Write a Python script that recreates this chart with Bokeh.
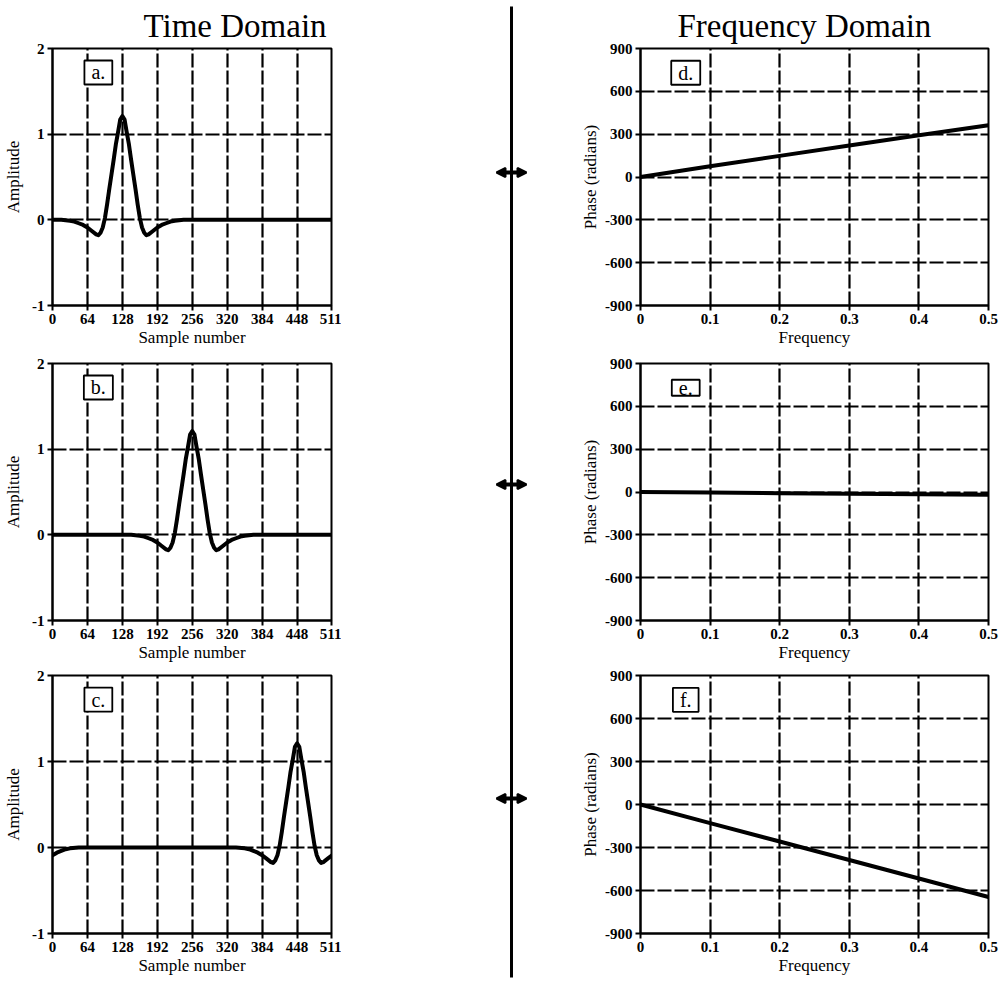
from bokeh.plotting import figure
from bokeh.layouts import row, column
from bokeh.models import Range1d, FixedTicker, Label, Arrow, NormalHead
from bokeh.embed import file_html
from bokeh.resources import INLINE

# ---------------- data ----------------
# pulse shape, amplitude vs offset (samples) from the peak
pulse_offsets = [-128, -112, -96, -88, -80, -72, -64, -56, -48, -44, -40, -36, -32,
                 -28, -24, -20, -16, -12, -8, -4, 0, 4, 8, 12, 16, 20, 24, 28,
                 32, 36, 40, 44, 48, 56, 64, 72, 80, 88, 96, 112, 128]
pulse_values = [0.0, 0.0, -0.01, -0.02, -0.04, -0.06, -0.09, -0.13, -0.17, -0.18, -0.15, -0.09, 0.02,
                0.18, 0.36, 0.53, 0.70, 0.88, 1.02, 1.17, 1.21, 1.17, 1.02, 0.88, 0.70, 0.53, 0.36, 0.18,
                0.02, -0.09, -0.15, -0.18, -0.17, -0.13, -0.09, -0.06, -0.04, -0.02, -0.01, 0.0, 0.0]
peak_positions = [128, 256, 448]          # panels a, b, c
n_samples = 512

time_ticks = [0, 64, 128, 192, 256, 320, 384, 448, 511]
time_grid = [64, 128, 192, 256, 320, 384, 448]
amp_ticks = [-1, 0, 1, 2]
amp_labels = {-1: "-1", 0: "0", 1: "1", 2: "2"}
amp_grid = [0, 1]

freq = [0.0, 0.1, 0.2, 0.3, 0.4, 0.5]
phase_d = [0, 75, 148, 220, 292, 362]
phase_e = [0, -4, -8, -12, -16, -20]
phase_f = [0, -130, -258, -387, -516, -645]
freq_ticks = [0, 0.1, 0.2, 0.3, 0.4, 0.5]
freq_labels = {0: "0"}
freq_grid = [0.1, 0.2, 0.3, 0.4]
phase_ticks = [-900, -600, -300, 0, 300, 600, 900]
phase_labels = {-900: "-900", -600: "-600", -300: "-300", 0: "0", 300: "300", 600: "600", 900: "900"}
phase_grid = [-600, -300, 0, 300, 600]

time_tags = ["a.", "b.", "c."]
freq_tags = ["d.", "e.", "f."]

SERIF = "Liberation Serif"

# vertical layout (top border, frame height, bottom border) per row
rows_geom = [(48, 257, 50), (8, 257, 47), (8, 258, 49)]


def style(p, xlabel, ylabel, xticks, yticks, xgrid, ygrid, xlabels=None, ylabels=None):
    p.outline_line_color = "black"
    p.outline_line_width = 2
    p.background_fill_color = "white"
    p.border_fill_color = "white"
    for ax in (p.xaxis[0], p.yaxis[0]):
        ax.axis_line_color = "black"
        ax.axis_line_width = 2
        ax.major_tick_line_color = "black"
        ax.major_tick_line_width = 2
        ax.major_tick_in = 0
        ax.major_tick_out = 5
        ax.minor_tick_line_color = None
        ax.major_label_text_font = SERIF
        ax.major_label_text_font_style = "bold"
        ax.major_label_text_font_size = "15px"
        ax.major_label_text_color = "black"
        ax.axis_label_text_font = SERIF
        ax.axis_label_text_font_style = "normal"
        ax.axis_label_text_font_size = "17px"
        ax.axis_label_text_color = "black"
    p.xaxis[0].axis_label = xlabel
    p.yaxis[0].axis_label = ylabel
    p.xaxis[0].major_label_standoff = 3
    p.xaxis[0].axis_label_standoff = 1
    p.yaxis[0].major_label_standoff = 3
    p.xaxis[0].ticker = FixedTicker(ticks=xticks)
    p.yaxis[0].ticker = FixedTicker(ticks=yticks)
    if xlabels:
        p.xaxis[0].major_label_overrides = xlabels
    if ylabels:
        p.yaxis[0].major_label_overrides = ylabels
    p.xgrid[0].ticker = FixedTicker(ticks=xgrid)
    p.ygrid[0].ticker = FixedTicker(ticks=ygrid)
    for g in (p.xgrid[0], p.ygrid[0]):
        g.grid_line_color = "black"
        g.grid_line_width = 2.2
        g.grid_line_dash = "14 3"


def tag(p, x, y, text):
    p.add_layout(Label(x=x, y=y, text=text, text_font=SERIF, text_font_size="20px",
                       text_align="center", text_baseline="middle", text_color="black",
                       border_line_color="black", border_line_width=1.8,
                       background_fill_color="white", padding=dict(left=7, right=7, top=1, bottom=1)))


def set_title(p, text, offset):
    p.title.text = text
    p.title.align = "left"
    p.title.offset = offset
    p.title.standoff = 9
    p.title.text_font = SERIF
    p.title.text_font_size = "33px"
    p.title.text_font_style = "normal"
    p.title.text_color = "black"


left_panels = []
for i, (peak, tg) in enumerate(zip(peak_positions, time_tags)):
    top, fh, bot = rows_geom[i]
    p = figure(frame_width=279, frame_height=fh, min_border_left=52, min_border_right=10,
               min_border_top=top, min_border_bottom=bot,
               x_range=Range1d(0, 511), y_range=Range1d(-1, 2),
               output_backend="svg", toolbar_location=None)
    style(p, "Sample number", "Amplitude", time_ticks, amp_ticks, time_grid, amp_grid,
          ylabels=amp_labels)
    p.yaxis[0].axis_label_standoff = 6
    # periodic (circular) placement of the pulse
    pts = []
    for k in (-n_samples, 0, n_samples):
        for o, v in zip(pulse_offsets, pulse_values):
            pts.append((peak + k + o, v))
    pts.sort()
    p.line([q[0] for q in pts], [q[1] for q in pts], line_color="black", line_width=4,
           line_join="round")
    tag(p, 84, 1.72, tg)
    left_panels.append(p)

set_title(left_panels[0], "Time Domain", 91)

right_panels = []
for i, (ph, tg) in enumerate(zip([phase_d, phase_e, phase_f], freq_tags)):
    top, fh, bot = rows_geom[i]
    p = figure(frame_width=348, frame_height=fh, min_border_left=80, min_border_right=16,
               min_border_top=top, min_border_bottom=bot,
               x_range=Range1d(0, 0.5), y_range=Range1d(-900, 900),
               output_backend="svg", toolbar_location=None)
    style(p, "Frequency", "Phase (radians)", freq_ticks, phase_ticks, freq_grid, phase_grid,
          xlabels=freq_labels, ylabels=phase_labels)
    p.yaxis[0].axis_label_standoff = 2
    p.line(freq, ph, line_color="black", line_width=4, line_join="round")
    tag(p, 0.065, 730, tg)
    right_panels.append(p)

set_title(right_panels[0], "Frequency Domain", 37)

# middle divider with double-headed arrows
pm = figure(width=219, height=982, x_range=Range1d(0, 219), y_range=Range1d(982, 0),
            x_axis_location=None, y_axis_location=None, min_border=0,
            output_backend="svg", toolbar_location=None)
pm.grid.visible = False
pm.outline_line_color = None
pm.background_fill_color = "white"
pm.border_fill_color = "white"
pm.segment(x0=[170], y0=[6], x1=[170], y1=[977], line_color="black", line_width=3)
for yy in (172, 484, 798):
    pm.add_layout(Arrow(start=NormalHead(size=9, fill_color="black", line_color="black", line_width=2),
                        end=NormalHead(size=9, fill_color="black", line_color="black", line_width=2),
                        x_start=155, y_start=yy, x_end=185, y_end=yy,
                        line_color="black", line_width=4))

layout = row(column(*left_panels), pm, column(*right_panels))

open("out.html", "w").write(file_html(layout, INLINE))
